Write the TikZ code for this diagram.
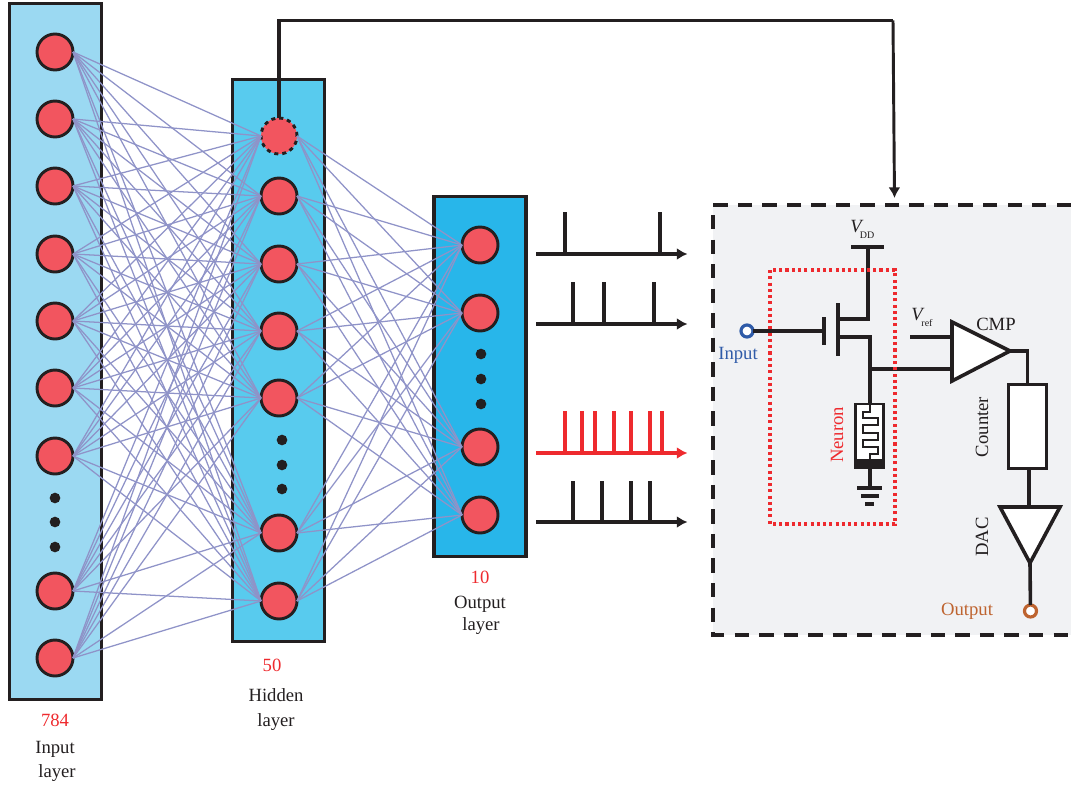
\documentclass[tikz,border=0pt]{standalone}
\usepackage{fontspec}
\setmainfont{Liberation Serif}
\usepackage{xcolor}
\usetikzlibrary{arrows.meta,calc,positioning}
\definecolor{inputblue}{HTML}{9BD9F2}
\definecolor{hiddenblue}{HTML}{58CBEE}
\definecolor{outputblue}{HTML}{28B6EA}
\definecolor{neuronred}{HTML}{F2555F}
\definecolor{synapse}{HTML}{8F93C8}
\definecolor{ink}{HTML}{231F20}
\definecolor{spikered}{HTML}{EE2A2E}
\definecolor{panelgrey}{HTML}{F1F2F4}
\definecolor{inblue}{HTML}{2F5BA8}
\definecolor{outbrown}{HTML}{BE6430}
\tikzset{
  layerbox/.style={draw=ink,line width=2.4pt,inner sep=0pt,minimum width=69pt},
  neuron/.style={draw=ink,circle,fill=neuronred,line width=2.2pt,inner sep=0pt,outer sep=0pt,minimum size=27pt},
  dot/.style={circle,fill=ink,inner sep=0pt,minimum size=8pt},
  link/.style={synapse,line width=.95pt},
  wire/.style={ink,line width=2.7pt},
  train/.style={ink,line width=3pt,-{Latex[length=8pt,width=9pt]}},
  spike/.style={ink,line width=3pt},
  terminal/.style={circle,fill=white,line width=2.4pt,inner sep=0pt,outer sep=0pt,minimum size=9pt},
  lbl/.style={ink,font=\fontsize{14}{16}\selectfont,inner sep=0pt},
  count/.style={lbl,text=spikered}
}
\begin{document}
\begin{tikzpicture}[x=.75pt,y=-.75pt]
\useasboundingbox (0,0) rectangle (1071,785);
% Layers
\node[layerbox,fill=inputblue,minimum height=522.5pt] (L1) at (55.5,351.5) {};
\node[layerbox,fill=hiddenblue,minimum height=422pt] (L2) at (278.5,360.5) {};
\node[layerbox,fill=outputblue,minimum height=270.5pt] (L3) at (480,376.5) {};

% Neurons of the three layers
\foreach \i/\y in {1/52,2/119,3/186,4/254,5/321,6/388,7/456,8/591,9/658}
  \node[neuron] (A\i) at (55,\y) {};
\node[neuron,dashed] (B1) at (279,136) {};
\foreach \i/\y in {2/196,3/264,4/331,5/398,6/533,7/601}
  \node[neuron] (B\i) at (279,\y) {};
\foreach \i/\y in {1/245,2/313,3/447,4/515}
  \node[neuron] (C\i) at (480,\y) {};

% Dots for the neurons left out
\foreach \y in {498,522,547} \node[dot] at (55,\y) {};
\foreach \y in {440,465,489} \node[dot] at (282,\y) {};
\foreach \y in {354,379,404} \node[dot] at (481,\y) {};

% Synapses
\foreach \i in {1,...,9}
  \foreach \j in {1,...,7}
    \draw[link] (A\i.east) -- (B\j.west);
\foreach \i in {1,...,7}
  \foreach \j in {1,...,4}
    \draw[link] (B\i.east) -- (C\j.west);

% Layer labels
\node[count] at (55,720) {784};
\node[lbl] at (55,749) {Input};
\node[lbl] at (57,773) {layer};
\node[count] at (272,665) {50};
\node[lbl] at (276,695) {Hidden};
\node[lbl] at (276,722) {layer};
\node[count] at (480,577) {10};
\node[lbl] at (480,604) {Output};
\node[lbl] at (481,626) {layer};

% Spike trains
\coordinate (T1a) at (536,254); \coordinate (T1b) at (687.5,254);
\coordinate (T2a) at (536,324); \coordinate (T2b) at (687.5,324);
\coordinate (T3a) at (536,453); \coordinate (T3b) at (687.5,453);
\coordinate (T4a) at (536,522); \coordinate (T4b) at (687.5,522);
\foreach \x in {565,660} \draw[spike] (\x,212) -- (\x,254);
\foreach \x in {572.5,604,654} \draw[spike] (\x,282) -- (\x,324);
\foreach \x in {565,582,595,614,631,650,662} \draw[spike,spikered] (\x,411) -- (\x,453);
\foreach \x in {572.5,602,631,650} \draw[spike] (\x,481) -- (\x,522);
\draw[train] (T1a) -- (T1b);
\draw[train] (T2a) -- (T2b);
\draw[train,spikered] (T3a) -- (T3b);
\draw[train] (T4a) -- (T4b);

% Circuit panel, open on the right
\fill[panelgrey] (713,205) rectangle (1071,635);
\draw[ink,line width=2.6pt,dash pattern=on 10.8pt off 7.6pt] (1071,205) -- (713,205) -- (713,635) -- (1071,635);

% Line from the dashed neuron to the panel
\coordinate (corner) at (893,20.5);
\coordinate (panelin) at (894.5,198);
\draw[wire] (B1.north) |- (corner);
\draw[ink,line width=2.2pt,-{Latex[length=8pt,width=9pt]}] (corner) -- (panelin);

% Transistor
\node[terminal,draw=inblue] (IN) at (747,331) {};
\coordinate (gate) at (824,331);
\coordinate (drain) at (838,319);
\coordinate (source) at (838,337);
\coordinate (vdd) at (868,247);
\coordinate (mid) at (870,369);
\draw[wire] (IN) -- (gate);
\draw[wire] (824,317) -- (824,345);
\draw[wire] (838,303) -- (838,356);
\draw[wire] (851,247) -- (884,247);
\draw[wire] (vdd) |- (drain);
\draw[wire] (source) -| (mid);
\node[lbl,anchor=west] at (850,227) {\textit{V}};
\node[ink,font=\fontsize{7.5}{9}\selectfont,inner sep=0pt] at (867,235) {DD};

% Memristor and ground
\node[draw=ink,fill=white,line width=1.8pt,inner sep=0pt,minimum width=21pt,minimum height=48pt] (MEM) at (869.5,436) {};
\draw[wire] (mid) -- (MEM.north-|mid);
\draw[ink,line width=1.7pt] (870,404) -- (870,412) -- (863,412) -- (863,418) -- (878,418) -- (878,425) -- (863,425)
  -- (863,433) -- (878,433) -- (878,440) -- (863,440) -- (863,447) -- (878,447) -- (878,454) -- (870,454) -- (870,459);
\fill[ink] (855,459) rectangle (884,469);
\coordinate (gnd) at (870,488);
\draw[wire] (870,469) -- (gnd);
\draw[wire] (857,488) -- (882,488);
\draw[wire,line width=3pt] (861,496) -- (879,496);
\draw[wire,line width=3pt] (865,504) -- (874,504);

% Comparator, counter, DAC
\coordinate (cmpa) at (952,322);
\coordinate (cmpb) at (952,381);
\coordinate (cmpc) at (1010,351);
\draw[wire] (mid) -- (952,369);
\draw[wire] (910,337) -- (952,337);
\draw[wire,fill=white,line join=miter] (cmpa) -- (cmpc) -- (cmpb) -- cycle;
\node[draw=ink,fill=white,line width=2.4pt,inner sep=0pt,minimum width=29pt,minimum height=63.5pt] (CNT) at (1027.5,426.5) {};
\draw[wire] (cmpc) -| (CNT.north);
\coordinate (daca) at (1000,507);
\coordinate (dacb) at (1060,507);
\coordinate (dacc) at (1030,563);
\coordinate (dactop) at (1029,507);
\draw[wire] (CNT.south-|dactop) -- (dactop);
\draw[wire,fill=white,line join=miter] (daca) -- (dacb) -- (dacc) -- cycle;
\node[terminal,draw=outbrown] (OUT) at (1030.5,611) {};
\draw[wire] (dacc) -- (OUT);

% Dotted neuron outline on top of the wires
\draw[spikered,line width=2.3pt,dash pattern=on 2.3pt off 2.4pt] (770,270) rectangle (895,524);

% Circuit labels
\node[lbl,anchor=west] at (911,315) {\textit{V}};
\node[ink,font=\fontsize{7.5}{9}\selectfont,inner sep=0pt] at (927,323) {ref};
\node[lbl] at (996,324) {CMP};
\node[lbl,text=inblue] at (738,355) {Input};
\node[lbl,text=outbrown] at (967,611) {Output};
\node[lbl,text=spikered,rotate=90] at (837,435) {Neuron};
\node[lbl,rotate=90] at (982,427) {Counter};
\node[lbl,rotate=90] at (982,537) {DAC};
\end{tikzpicture}
\end{document}
